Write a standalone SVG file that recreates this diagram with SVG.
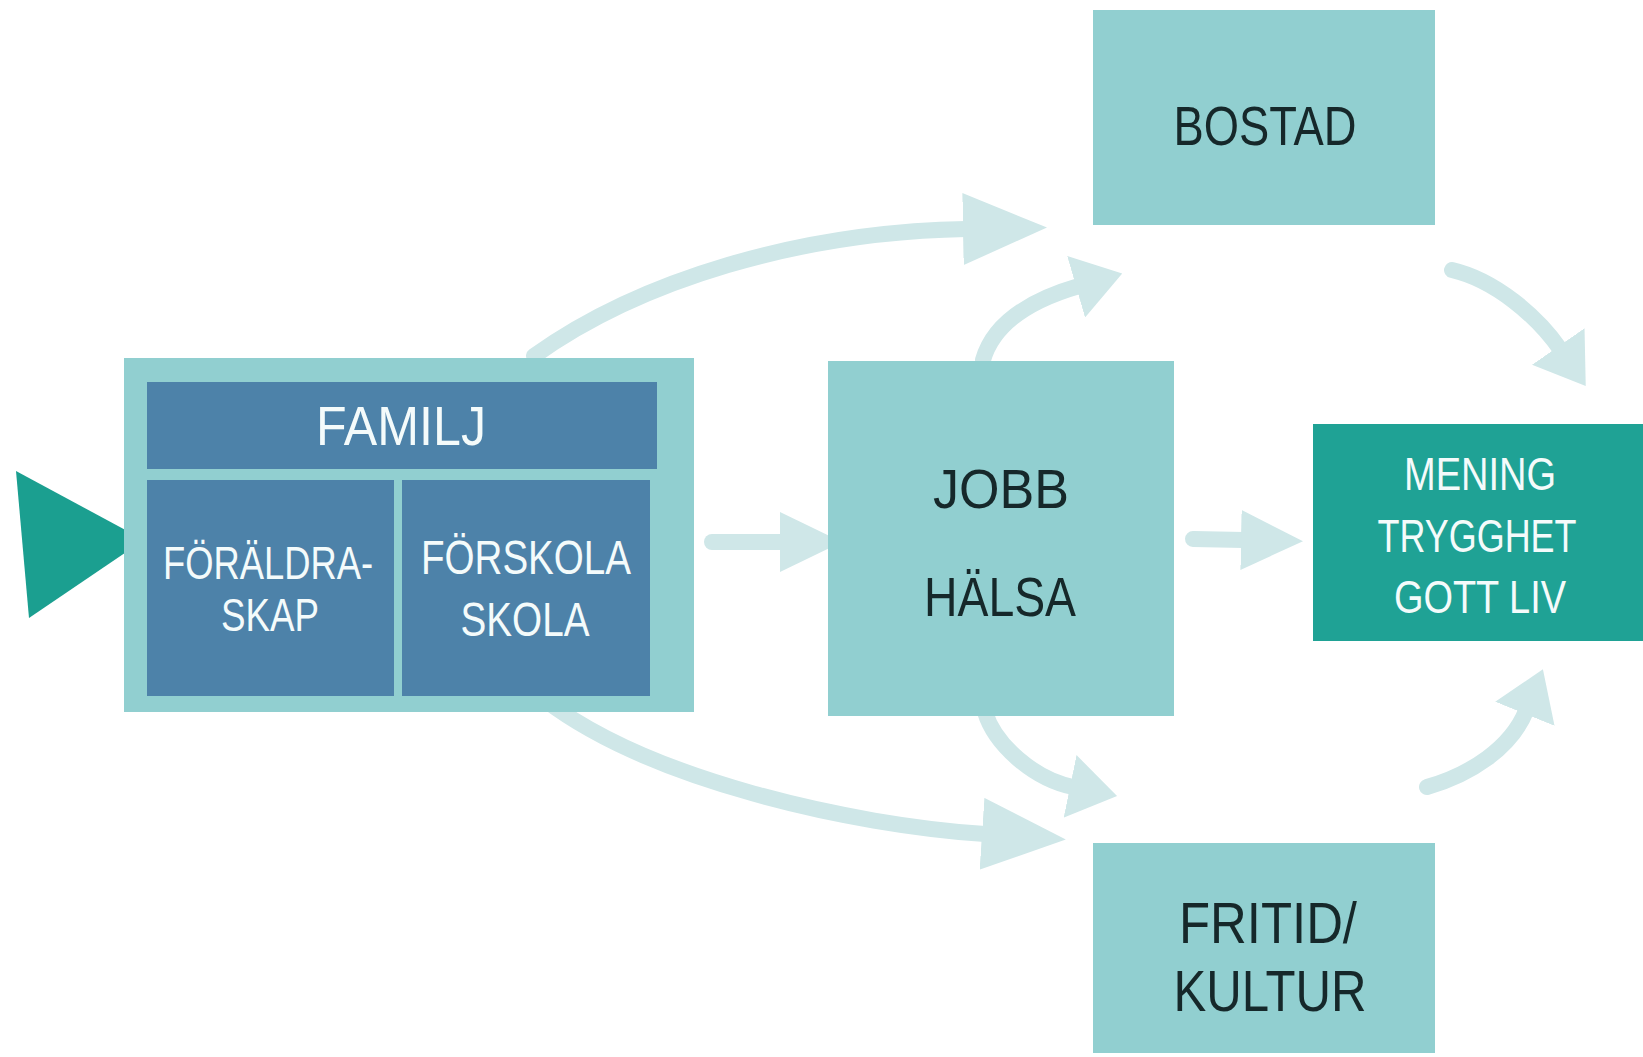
<svg xmlns="http://www.w3.org/2000/svg" width="1643" height="1057" viewBox="0 0 1643 1057">
<defs>
<style>
.lt{fill:#91cfd0}
.dk{fill:#4d82a9}
.mn{fill:#1fa295}
.tw{fill:#f4fbfb;font-family:"Liberation Sans","DejaVu Sans",sans-serif;text-anchor:middle}
.tb{fill:#16282a;font-family:"Liberation Sans","DejaVu Sans",sans-serif;text-anchor:middle}
.ar{fill:none;stroke:#cfe7e8;stroke-width:16;stroke-linecap:round}
.hd{fill:#cfe7e8}
</style>
<marker id="hL" viewBox="0 0 84 72" refX="3" refY="36" markerWidth="84" markerHeight="72" markerUnits="userSpaceOnUse" orient="auto">
<path class="hd" d="M0,0 L84,36 L0,72 z"/>
</marker>
<marker id="hM" viewBox="0 0 62 60" refX="3" refY="30" markerWidth="62" markerHeight="60" markerUnits="userSpaceOnUse" orient="auto">
<path class="hd" d="M0,0 L62,30 L0,60 z"/>
</marker>
<marker id="hS" viewBox="0 0 48 64" refX="3" refY="32" markerWidth="48" markerHeight="64" markerUnits="userSpaceOnUse" orient="auto">
<path class="hd" d="M0,0 L48,32 L0,64 z"/>
</marker>
</defs>
<rect width="1643" height="1057" fill="#ffffff"/>
<g id="connectors">
<path class="ar" marker-end="url(#hL)" d="M534,356 C640,280 800,232 966,229"/>
<path class="ar" marker-end="url(#hS)" d="M983,360 C995,318 1041,297 1079,286"/>
<path class="ar" marker-end="url(#hM)" d="M712,542 L783,542"/>
<path class="ar" marker-end="url(#hM)" d="M1193,539 L1244,540"/>
<path class="ar" marker-end="url(#hS)" d="M1452,270 C1495,280 1537,316 1560,349"/>
<path class="ar" marker-end="url(#hS)" d="M985,712 C995,745 1034,779 1073,787"/>
<path class="ar" marker-end="url(#hL)" d="M545,700 C650,780 850,825 985,834"/>
<path class="ar" marker-end="url(#hS)" d="M1427,787 C1470,775 1511,748 1526,711"/>
</g>
<g id="start-triangle">
<polygon points="16,471 144,540 29,618" fill="#1b9f90"/>
</g>
<g id="familj">
<rect class="lt" x="124" y="358" width="570" height="354"/>
<rect class="dk" x="147" y="382" width="510" height="87"/>
<text class="tw" x="401" y="445" font-size="56" textLength="170" lengthAdjust="spacingAndGlyphs">FAMILJ</text>
</g>
<g id="foraldraskap">
<rect class="dk" x="147" y="480" width="247" height="216"/>
<text class="tw" font-size="46"><tspan x="268" y="579" textLength="210" lengthAdjust="spacingAndGlyphs">FÖRÄLDRA-</tspan><tspan x="270" y="631" textLength="98" lengthAdjust="spacingAndGlyphs">SKAP</tspan></text>
</g>
<g id="forskola">
<rect class="dk" x="402" y="480" width="248" height="216"/>
<text class="tw" font-size="48"><tspan x="526" y="574" textLength="210" lengthAdjust="spacingAndGlyphs">FÖRSKOLA</tspan><tspan x="525" y="636" textLength="129" lengthAdjust="spacingAndGlyphs">SKOLA</tspan></text>
</g>
<g id="bostad">
<rect class="lt" x="1093" y="10" width="342" height="215"/>
<text class="tb" x="1265" y="145" font-size="56" textLength="183" lengthAdjust="spacingAndGlyphs">BOSTAD</text>
</g>
<g id="jobb-halsa">
<rect class="lt" x="828" y="361" width="346" height="355"/>
<text class="tb" font-size="56"><tspan x="1001" y="508" textLength="136" lengthAdjust="spacingAndGlyphs">JOBB</tspan><tspan x="1000" y="616" textLength="152" lengthAdjust="spacingAndGlyphs">HÄLSA</tspan></text>
</g>
<g id="mening">
<rect class="mn" x="1313" y="424" width="330" height="217"/>
<text class="tw" font-size="46"><tspan x="1480" y="490" textLength="152" lengthAdjust="spacingAndGlyphs">MENING</tspan><tspan x="1477" y="552" textLength="199" lengthAdjust="spacingAndGlyphs">TRYGGHET</tspan><tspan x="1480" y="613" textLength="172" lengthAdjust="spacingAndGlyphs">GOTT LIV</tspan></text>
</g>
<g id="fritid">
<rect class="lt" x="1093" y="843" width="342" height="210"/>
<text class="tb" font-size="58"><tspan x="1268" y="943" textLength="178" lengthAdjust="spacingAndGlyphs">FRITID/</tspan><tspan x="1270" y="1011" textLength="193" lengthAdjust="spacingAndGlyphs">KULTUR</tspan></text>
</g>
</svg>
